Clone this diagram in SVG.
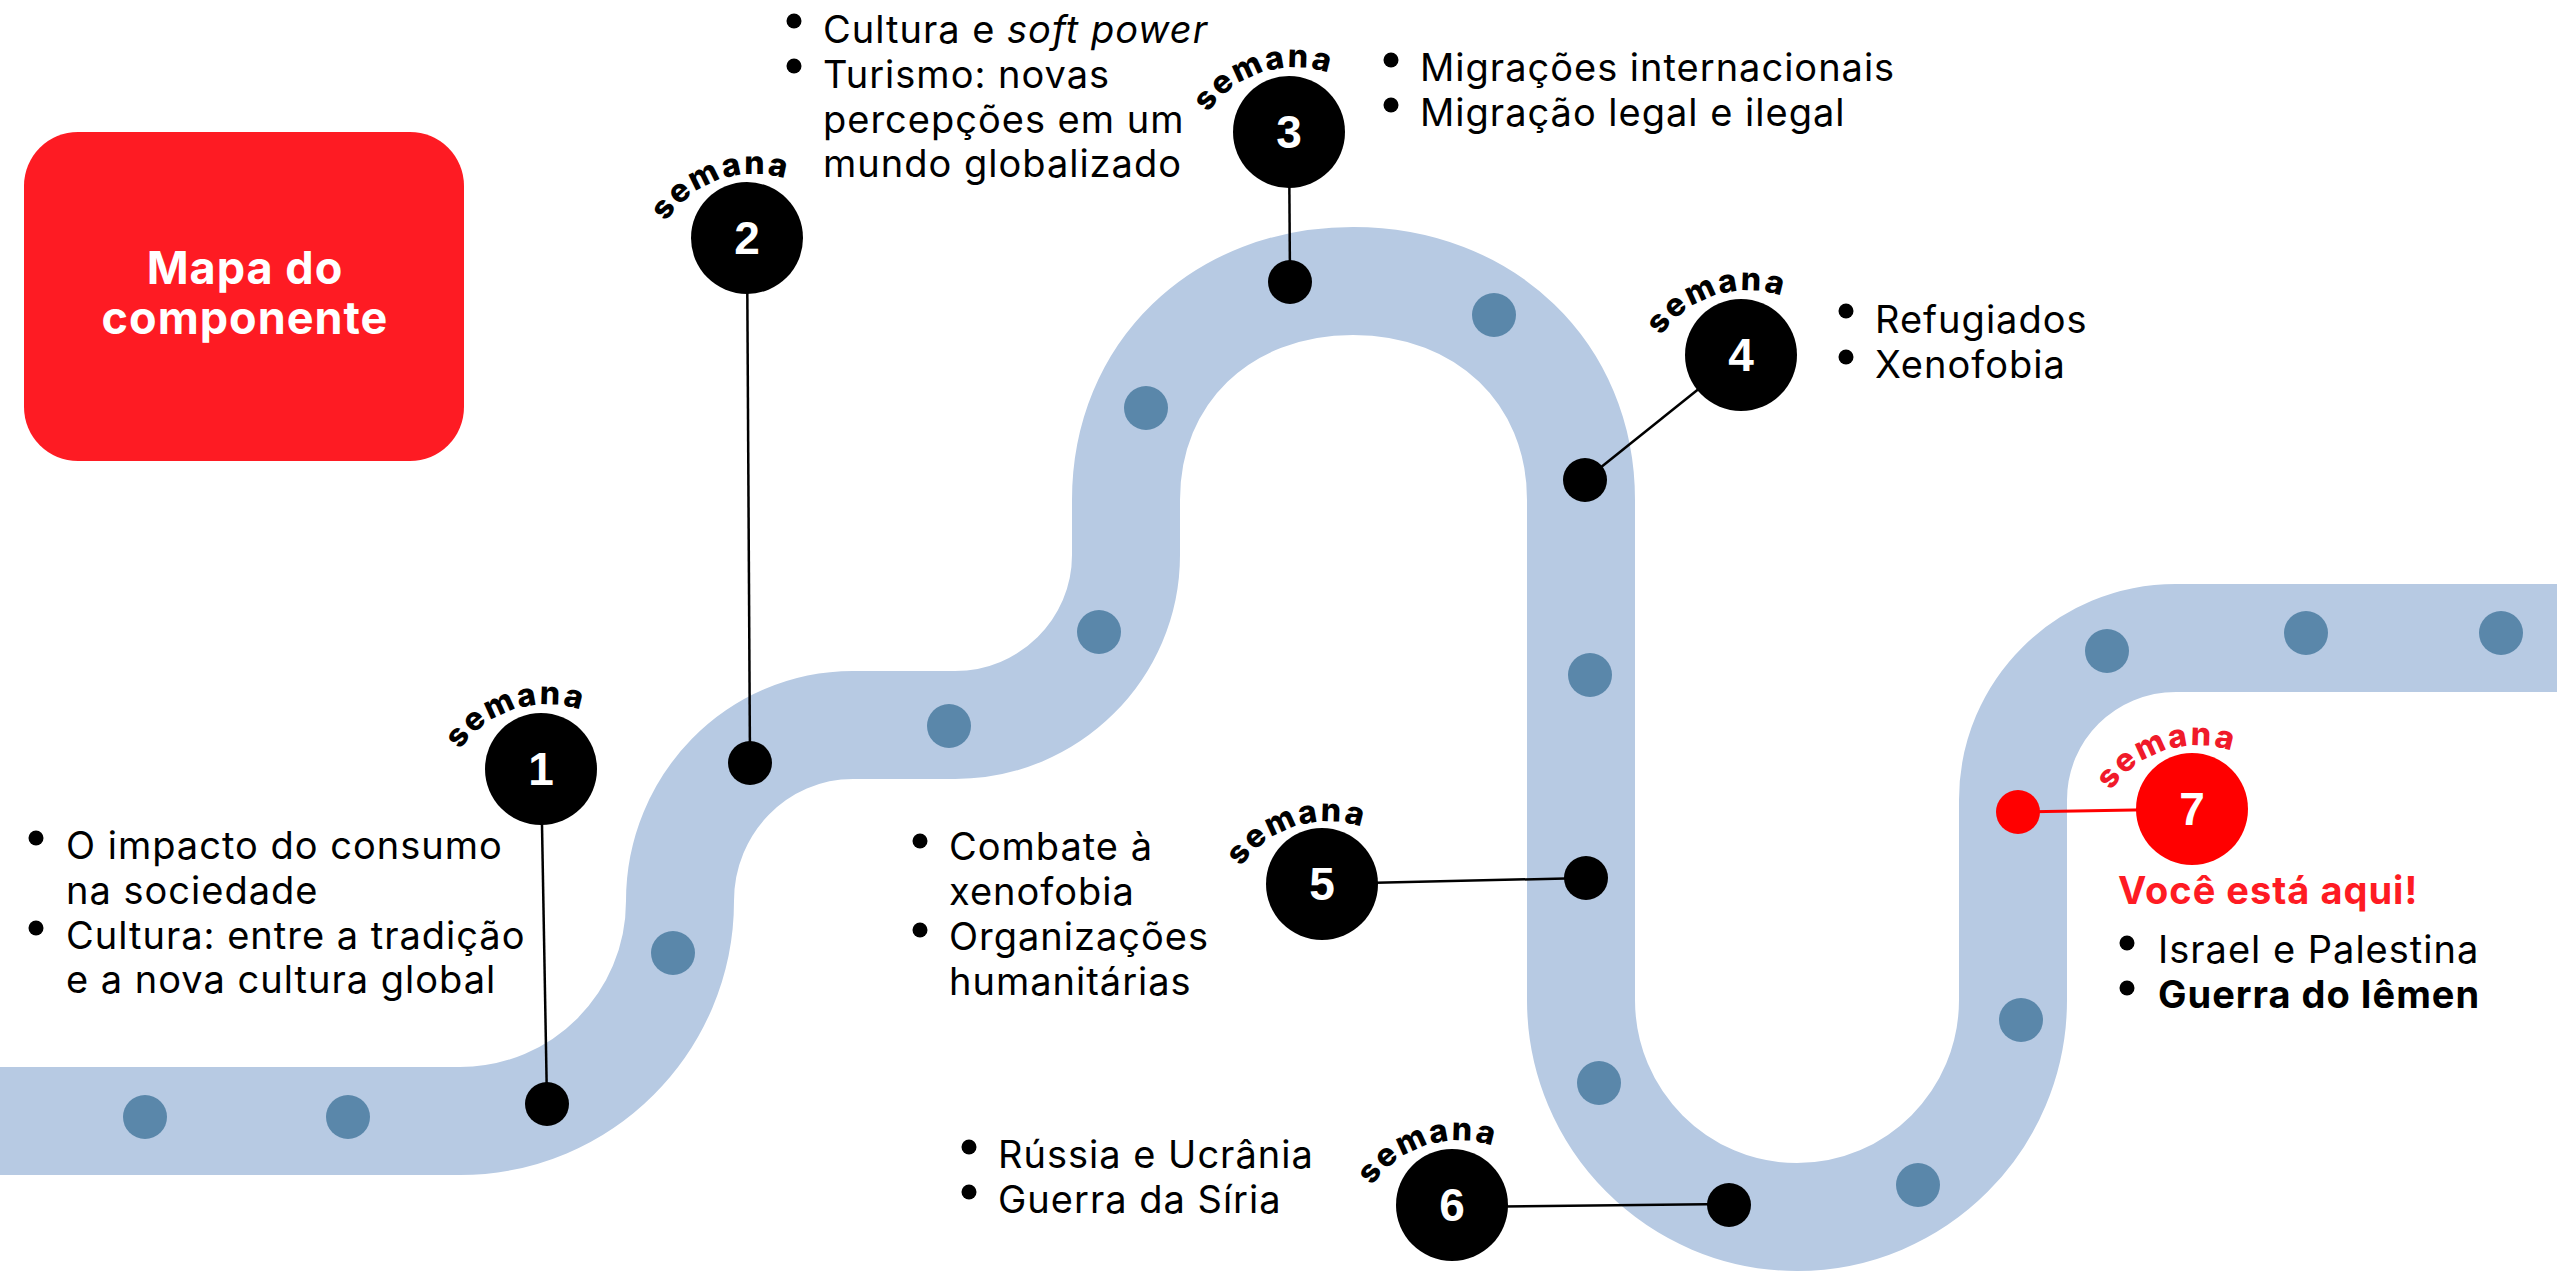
<svg xmlns="http://www.w3.org/2000/svg" xmlns:xlink="http://www.w3.org/1999/xlink" width="2557" height="1272" viewBox="0 0 2557 1272">
<style>
.txt{font-family:Inter,"Noto Sans",sans-serif;font-size:38px;letter-spacing:1px;fill:#000}
.bold{font-weight:700}
.sem{font-family:Inter,"Noto Sans",sans-serif;font-weight:800;font-size:32px;fill:#000}
.sem7{fill:#f01a2a}
.num{font-family:"Liberation Sans",Arial,sans-serif;font-weight:700;font-size:46px;fill:#fff;text-anchor:middle}
.big{fill:#000}
.dot{fill:#000}
.bdot{fill:#5a87aa}
.bul{fill:#000}
.conn{stroke:#000;stroke-width:2.5;fill:none}
.title{font-family:Inter,"Noto Sans",sans-serif;font-weight:700;font-size:45px;letter-spacing:1px;fill:#fff;text-anchor:middle}
</style>
<defs>
<path id="arc1" d="M 460 750 A 105 105 0 0 1 586 712"/>
<path id="arc2" d="M 666 222 A 105 105 0 0 1 792 181"/>
<path id="arc3" d="M 1208 113 A 105 105 0 0 1 1334 75"/>
<path id="arc4" d="M 1661 336 A 105 105 0 0 1 1787 298"/>
<path id="arc5" d="M 1241 867 A 105 105 0 0 1 1367 829"/>
<path id="arc6" d="M 1372 1186 A 105 105 0 0 1 1498 1148"/>
<path id="arc7" d="M 2111 791 A 105 105 0 0 1 2237 753"/>
</defs>
<rect width="2557" height="1272" fill="#fff"/>
<g id="road">
<path d="M 0 1121 H 460 C 581.5 1121 680 1022.5 680 901 C 680 804 757 725 853 725 H 955 C 1049 725 1126 649 1126 555 V 500 C 1126 373 1221 281 1353 281 C 1485 281 1581 373 1581 500 V 1000 C 1581 1120 1678 1217 1797 1217 C 1916 1217 2013 1120 2013 1000 V 800 C 2013 710 2086 638 2176 638 H 2557" fill="none" stroke="#b7cae3" stroke-width="108"/>
<circle class="bdot" cx="145" cy="1117" r="22"/>
<circle class="bdot" cx="348" cy="1117" r="22"/>
<circle class="bdot" cx="673" cy="953" r="22"/>
<circle class="bdot" cx="949" cy="726" r="22"/>
<circle class="bdot" cx="1099" cy="632" r="22"/>
<circle class="bdot" cx="1146" cy="408" r="22"/>
<circle class="bdot" cx="1494" cy="315" r="22"/>
<circle class="bdot" cx="1590" cy="675" r="22"/>
<circle class="bdot" cx="1599" cy="1083" r="22"/>
<circle class="bdot" cx="1918" cy="1185" r="22"/>
<circle class="bdot" cx="2021" cy="1020" r="22"/>
<circle class="bdot" cx="2107" cy="651" r="22"/>
<circle class="bdot" cx="2306" cy="633" r="22"/>
<circle class="bdot" cx="2501" cy="633" r="22"/>
</g>
<g id="connectors">
<line class="conn" x1="541" y1="769" x2="547" y2="1104"/>
<line class="conn" x1="747" y1="238" x2="750" y2="763"/>
<line class="conn" x1="1289" y1="132" x2="1290" y2="282"/>
<line class="conn" x1="1741" y1="355" x2="1585" y2="480"/>
<line class="conn" x1="1322" y1="884" x2="1586" y2="878"/>
<line class="conn" x1="1452" y1="1207" x2="1729" y2="1204"/>
<line x1="2018" y1="812" x2="2192" y2="809" stroke="#ff0000" stroke-width="3"/>
</g>
<g id="title">
<rect x="24" y="132" width="440" height="329" rx="54" ry="54" fill="#fe1b23"/>
<text class="title" x="245" y="284">Mapa do</text>
<text class="title" x="245" y="334">componente</text>
</g>
<g id="week1">
<circle class="dot" cx="547" cy="1104" r="22"/>
<circle class="big" cx="541" cy="769" r="56"/>
<text class="num" x="541" y="785">1</text>
<text class="sem"><textPath href="#arc1" xlink:href="#arc1" textLength="136" lengthAdjust="spacing">semana</textPath></text>
<circle class="bul" cx="36" cy="838" r="7.5"/>
<circle class="bul" cx="36" cy="928" r="7.5"/>
<text class="txt" x="66" y="859">O impacto do consumo</text>
<text class="txt" x="66" y="904">na sociedade</text>
<text class="txt" x="66" y="949">Cultura: entre a tradição</text>
<text class="txt" x="66" y="993">e a nova cultura global</text>
</g>
<g id="week2">
<circle class="dot" cx="750" cy="763" r="22"/>
<circle class="big" cx="747" cy="238" r="56"/>
<text class="num" x="747" y="254">2</text>
<text class="sem"><textPath href="#arc2" xlink:href="#arc2" textLength="136" lengthAdjust="spacing">semana</textPath></text>
<circle class="bul" cx="794" cy="21" r="7.5"/>
<circle class="bul" cx="794" cy="66" r="7.5"/>
<text class="txt" x="823" y="43">Cultura e <tspan font-style="italic">soft power</tspan></text>
<text class="txt" x="823" y="88">Turismo: novas</text>
<text class="txt" x="823" y="133">percepções em um</text>
<text class="txt" x="823" y="177">mundo globalizado</text>
</g>
<g id="week3">
<circle class="dot" cx="1290" cy="282" r="22"/>
<circle class="big" cx="1289" cy="132" r="56"/>
<text class="num" x="1289" y="148">3</text>
<text class="sem"><textPath href="#arc3" xlink:href="#arc3" textLength="136" lengthAdjust="spacing">semana</textPath></text>
<circle class="bul" cx="1391" cy="60" r="7.5"/>
<circle class="bul" cx="1391" cy="105" r="7.5"/>
<text class="txt" x="1420" y="81">Migrações internacionais</text>
<text class="txt" x="1420" y="126">Migração legal e ilegal</text>
</g>
<g id="week4">
<circle class="dot" cx="1585" cy="480" r="22"/>
<circle class="big" cx="1741" cy="355" r="56"/>
<text class="num" x="1741" y="371">4</text>
<text class="sem"><textPath href="#arc4" xlink:href="#arc4" textLength="136" lengthAdjust="spacing">semana</textPath></text>
<circle class="bul" cx="1846" cy="311" r="7.5"/>
<circle class="bul" cx="1846" cy="357" r="7.5"/>
<text class="txt" x="1875" y="333">Refugiados</text>
<text class="txt" x="1875" y="378">Xenofobia</text>
</g>
<g id="week5">
<circle class="dot" cx="1586" cy="878" r="22"/>
<circle class="big" cx="1322" cy="884" r="56"/>
<text class="num" x="1322" y="900">5</text>
<text class="sem"><textPath href="#arc5" xlink:href="#arc5" textLength="136" lengthAdjust="spacing">semana</textPath></text>
<circle class="bul" cx="920" cy="841" r="7.5"/>
<circle class="bul" cx="920" cy="930" r="7.5"/>
<text class="txt" x="949" y="860">Combate à</text>
<text class="txt" x="949" y="905">xenofobia</text>
<text class="txt" x="949" y="950">Organizações</text>
<text class="txt" x="949" y="995">humanitárias</text>
</g>
<g id="week6">
<circle class="dot" cx="1729" cy="1205" r="22"/>
<circle class="big" cx="1452" cy="1205" r="56"/>
<text class="num" x="1452" y="1221">6</text>
<text class="sem"><textPath href="#arc6" xlink:href="#arc6" textLength="136" lengthAdjust="spacing">semana</textPath></text>
<circle class="bul" cx="969" cy="1147" r="7.5"/>
<circle class="bul" cx="969" cy="1192" r="7.5"/>
<text class="txt" x="998" y="1168">Rússia e Ucrânia</text>
<text class="txt" x="998" y="1213">Guerra da Síria</text>
</g>
<g id="week7">
<circle cx="2018" cy="812" r="22" fill="#ff0000"/>
<circle cx="2192" cy="809" r="56" fill="#ff0000"/>
<text class="num" x="2192" y="825">7</text>
<text class="sem sem7"><textPath href="#arc7" xlink:href="#arc7" textLength="136" lengthAdjust="spacing">semana</textPath></text>
<text class="txt bold" x="2118" y="904" style="fill:#fe1b23">Você está aqui!</text>
<circle class="bul" cx="2127" cy="943" r="7.5"/>
<circle class="bul" cx="2127" cy="988" r="7.5"/>
<text class="txt" x="2158" y="963">Israel e Palestina</text>
<text class="txt bold" x="2158" y="1008">Guerra do Iêmen</text>
</g>
</svg>
